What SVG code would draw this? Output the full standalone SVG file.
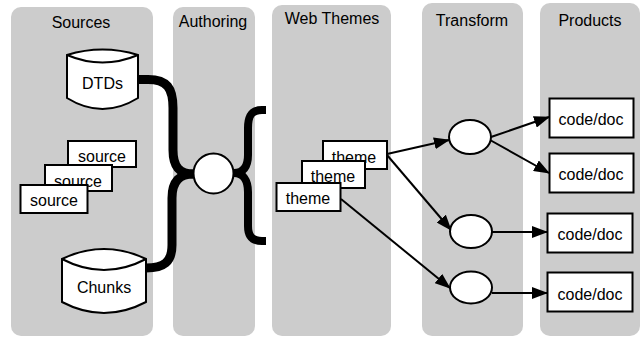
<svg xmlns="http://www.w3.org/2000/svg" width="642" height="338" viewBox="0 0 642 338">
  <style>
    .lane { fill: #cccccc; stroke: none; }
    .title { font-family: "Liberation Sans", Arial, sans-serif; font-size: 16px; fill: #000; text-anchor: middle; }
    .label { font-family: "Liberation Sans", Arial, sans-serif; font-size: 16px; fill: #000; text-anchor: middle; }
    .box { fill: #fff; stroke: #000; stroke-width: 2; }
    .shape { fill: #fff; stroke: #000; stroke-width: 2; }
    .brace { fill: none; stroke: #000; stroke-linecap: butt; stroke-linejoin: round; }
    .flow { fill: none; stroke: #000; stroke-width: 2; marker-end: url(#head); }
  </style>
  <defs>
    <marker id="head" viewBox="0 0 16 12" refX="15" refY="6" markerWidth="16" markerHeight="12" markerUnits="userSpaceOnUse" orient="auto">
      <path d="M0,0 L16,6 L0,12 Z" fill="#000"/>
    </marker>
  </defs>

  <!-- swimlanes -->
  <g id="lanes">
    <g id="lane-sources">
      <rect class="lane" x="11" y="7" width="142" height="329" rx="10"/>
      <text class="title" x="81" y="28">Sources</text>
    </g>
    <g id="lane-authoring">
      <rect class="lane" x="173" y="7" width="82" height="329" rx="10"/>
      <text class="title" x="213" y="26.5">Authoring</text>
    </g>
    <g id="lane-webthemes">
      <rect class="lane" x="272" y="5" width="119" height="331" rx="10"/>
      <text class="title" x="332" y="24">Web Themes</text>
    </g>
    <g id="lane-transform">
      <rect class="lane" x="422" y="3" width="101" height="333" rx="10"/>
      <text class="title" x="472" y="25.5">Transform</text>
    </g>
    <g id="lane-products">
      <rect class="lane" x="540" y="3" width="100" height="333" rx="10"/>
      <text class="title" x="590" y="25.5">Products</text>
    </g>
  </g>

  <!-- connectors -->
  <g id="connectors">
    <path class="brace" stroke-width="9" d="M138,79.5 L148,79.5 C167,79.5 173,88 173,108 L173,150 C173,167 180,174 193,174"/>
    <path class="brace" stroke-width="9" d="M193,174 C180,174 172,181 172,198 L172,245 C172,262 164,268 146,268"/>
    <path class="brace" stroke-width="8" d="M266,110 L262,110 C252,110 248,115 248,128 L248,155 C248,167 243,173 234,173"/>
    <path class="brace" stroke-width="8" d="M234,173 C243,173 248,180 248,192 L248,226 C248,236 252,241 262,241 L266,241"/>
    <path class="flow" d="M387,154 L449,140"/>
    <path class="flow" d="M387,155 L451,230"/>
    <path class="flow" d="M341,199 L450,288"/>
    <path class="flow" d="M491,137 L549,117"/>
    <path class="flow" d="M490,140 L549,173"/>
    <path class="flow" d="M492,232 L547,232"/>
    <path class="flow" d="M492,293 L547,293"/>
  </g>

  <!-- sources -->
  <g id="dtds">
    <path class="shape" d="M67,55 Q102.5,44 138,55 L138,98 Q102.5,120 67,98 Z"/>
    <path class="shape" fill="none" d="M67,55 Q102.5,70 138,55"/>
    <text class="label" x="102.5" y="88.5">DTDs</text>
  </g>
  <g id="source-1">
    <rect class="box" x="68" y="141" width="68" height="26"/>
    <text class="label" x="102" y="162">source</text>
  </g>
  <g id="source-2">
    <rect class="box" x="45" y="165" width="67" height="26"/>
    <text class="label" x="78" y="186.5">source</text>
  </g>
  <g id="source-3">
    <rect class="box" x="20.5" y="185" width="67" height="28"/>
    <text class="label" x="54" y="206">source</text>
  </g>
  <g id="chunks">
    <path class="shape" d="M62,259 Q104,239 146,259 L146,302 Q104,324 62,302 Z"/>
    <path class="shape" fill="none" d="M62,259 Q104,281 146,259"/>
    <text class="label" x="104" y="293">Chunks</text>
  </g>

  <!-- authoring -->
  <g id="authoring">
    <circle class="shape" cx="213.5" cy="173.5" r="20"/>
  </g>

  <!-- web themes -->
  <g id="theme-1">
    <rect class="box" x="323" y="141" width="64" height="28"/>
    <text class="label" x="354" y="162.5">theme</text>
  </g>
  <g id="theme-2">
    <rect class="box" x="302" y="161" width="63" height="27"/>
    <text class="label" x="333" y="182">theme</text>
  </g>
  <g id="theme-3">
    <rect class="box" x="276.5" y="183" width="64" height="28"/>
    <text class="label" x="308" y="204">theme</text>
  </g>

  <!-- transforms -->
  <g id="transform-1">
    <ellipse class="shape" cx="470" cy="137" rx="21" ry="17"/>
  </g>
  <g id="transform-2">
    <ellipse class="shape" cx="471" cy="231.5" rx="21" ry="16.5"/>
  </g>
  <g id="transform-3">
    <ellipse class="shape" cx="471" cy="287.5" rx="21" ry="16"/>
  </g>

  <!-- products -->
  <g id="product-1">
    <rect class="box" x="549.5" y="98.5" width="84" height="39"/>
    <text class="label" x="591" y="125">code/doc</text>
  </g>
  <g id="product-2">
    <rect class="box" x="549.5" y="153.5" width="84" height="39"/>
    <text class="label" x="591" y="180">code/doc</text>
  </g>
  <g id="product-3">
    <rect class="box" x="547.5" y="213.5" width="85" height="39"/>
    <text class="label" x="590" y="240">code/doc</text>
  </g>
  <g id="product-4">
    <rect class="box" x="547.5" y="272.5" width="85" height="39"/>
    <text class="label" x="590" y="300">code/doc</text>
  </g>
</svg>
